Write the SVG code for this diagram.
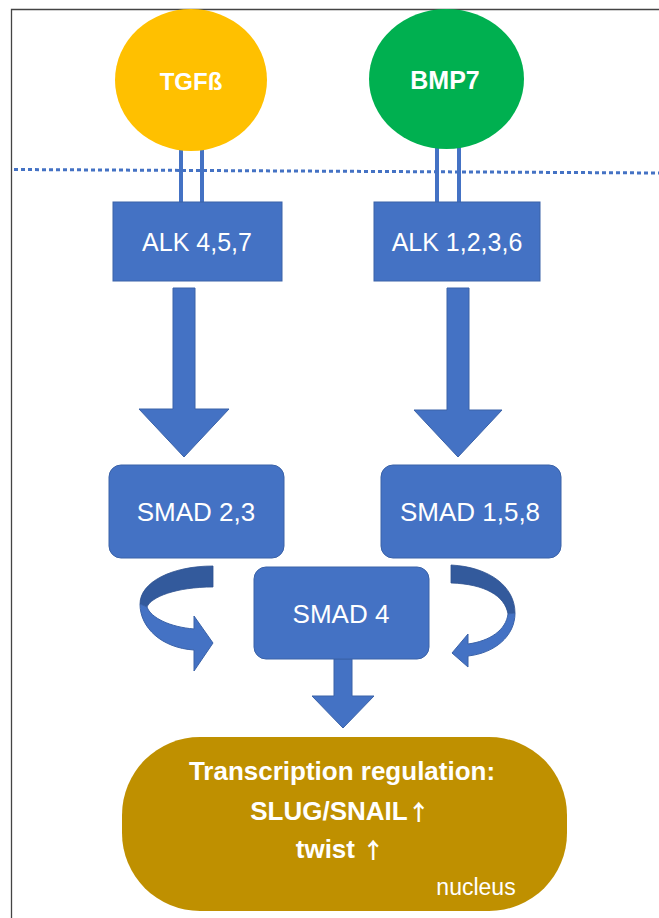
<svg xmlns="http://www.w3.org/2000/svg" width="659" height="918" viewBox="0 0 659 918">
  <style>
    .blue { fill: #4472C4; stroke: #3A62A8; stroke-width: 1; }
    .dark { fill: #335A9C; stroke: #2F528F; stroke-width: 0.8; }
    .lbl { font-family: "Liberation Sans", Arial, sans-serif; fill: #FFFFFF; text-anchor: middle; }
    .bold { font-weight: bold; }
    .up { font-family: "Noto Sans CJK SC", "DejaVu Sans", sans-serif; font-weight: bold; }
    .rec { stroke: #4472C4; stroke-width: 4; fill: none; }
  </style>

  <!-- cell frame -->
  <rect x="0" y="0" width="659" height="918" fill="#FFFFFF"/>
  <path d="M11.5,918 V9.5 H659" fill="none" stroke="#444444" stroke-width="1.3"/>

  <!-- membrane -->
  <path d="M14,169.5 L659,173" fill="none" stroke="#4472C4" stroke-width="3" stroke-dasharray="4 3"/>

  <g id="connectors">
    <!-- receptor stalks -->
    <path class="rec" d="M181,145 V202 M202,145 V202"/>
    <path class="rec" d="M437,145 V202 M459,145 V202"/>
    <!-- block arrows -->
    <path class="blue" d="M173,288 H195 V409 H229 L184,457 L139,409 H173 Z"/>
    <path class="blue" d="M447,288 H469 V410 H502 L458,457 L414,410 H447 Z"/>
    <path class="blue" d="M334,659 H352 V696 H374 L343,728 L312,696 H334 Z"/>
    <!-- curved arrow, left -->
    <path class="dark" d="M213,566 C172,566 140,582 140,604 L147,607 C151,597 176,587 213,587 Z"/>
    <path class="blue" d="M140,604 C140,628 162,648 194,650 L194,671 L213,643 L194,616 L194,629 C170,627 151,618 147,607 Z"/>
    <!-- curved arrow, right -->
    <path class="dark" d="M451,565 C490,567 515,587 515,613 L508,614 C505,596 485,584 451,583 Z"/>
    <path class="blue" d="M515,613 C515,636 495,653 468,656 L468,667 L452,653 L468,634 L468,644 C490,641 506,630 508,614 Z"/>
  </g>

  <g id="tgfb">
    <ellipse cx="191" cy="80" rx="76" ry="71" fill="#FFC000"/>
    <text class="lbl bold" x="191" y="90" font-size="24">TGFß</text>
  </g>

  <g id="bmp7">
    <ellipse cx="446.5" cy="79" rx="77.5" ry="70" fill="#00B050"/>
    <text class="lbl bold" x="445" y="89" font-size="25">BMP7</text>
  </g>

  <g id="alk457">
    <rect class="blue" x="113" y="202" width="169" height="79"/>
    <text class="lbl" x="197" y="251" font-size="25">ALK 4,5,7</text>
  </g>

  <g id="alk1236">
    <rect class="blue" x="374" y="202" width="166" height="79"/>
    <text class="lbl" x="457" y="251" font-size="25">ALK 1,2,3,6</text>
  </g>

  <g id="smad23">
    <rect class="blue" x="109" y="465" width="175" height="93" rx="12"/>
    <text class="lbl" x="196" y="521" font-size="26">SMAD 2,3</text>
  </g>

  <g id="smad158">
    <rect class="blue" x="381" y="465" width="180" height="93" rx="12"/>
    <text class="lbl" x="470" y="521" font-size="26">SMAD 1,5,8</text>
  </g>

  <g id="smad4">
    <rect class="blue" x="254" y="567" width="175" height="92" rx="12"/>
    <text class="lbl" x="341" y="623" font-size="26">SMAD 4</text>
  </g>

  <g id="nucleus">
    <rect x="122" y="737" width="445" height="174" rx="78" fill="#BF9000"/>
    <text class="lbl bold" x="342" y="780" font-size="26">Transcription regulation:</text>
    <text class="lbl bold" x="340" y="820" font-size="26">SLUG/SNAIL<tspan class="up" font-size="22">↑</tspan></text>
    <text class="lbl bold" x="340" y="858" font-size="26">twist <tspan class="up" font-size="22">↑</tspan></text>
    <text class="lbl" x="476" y="895" font-size="23">nucleus</text>
  </g>
</svg>
